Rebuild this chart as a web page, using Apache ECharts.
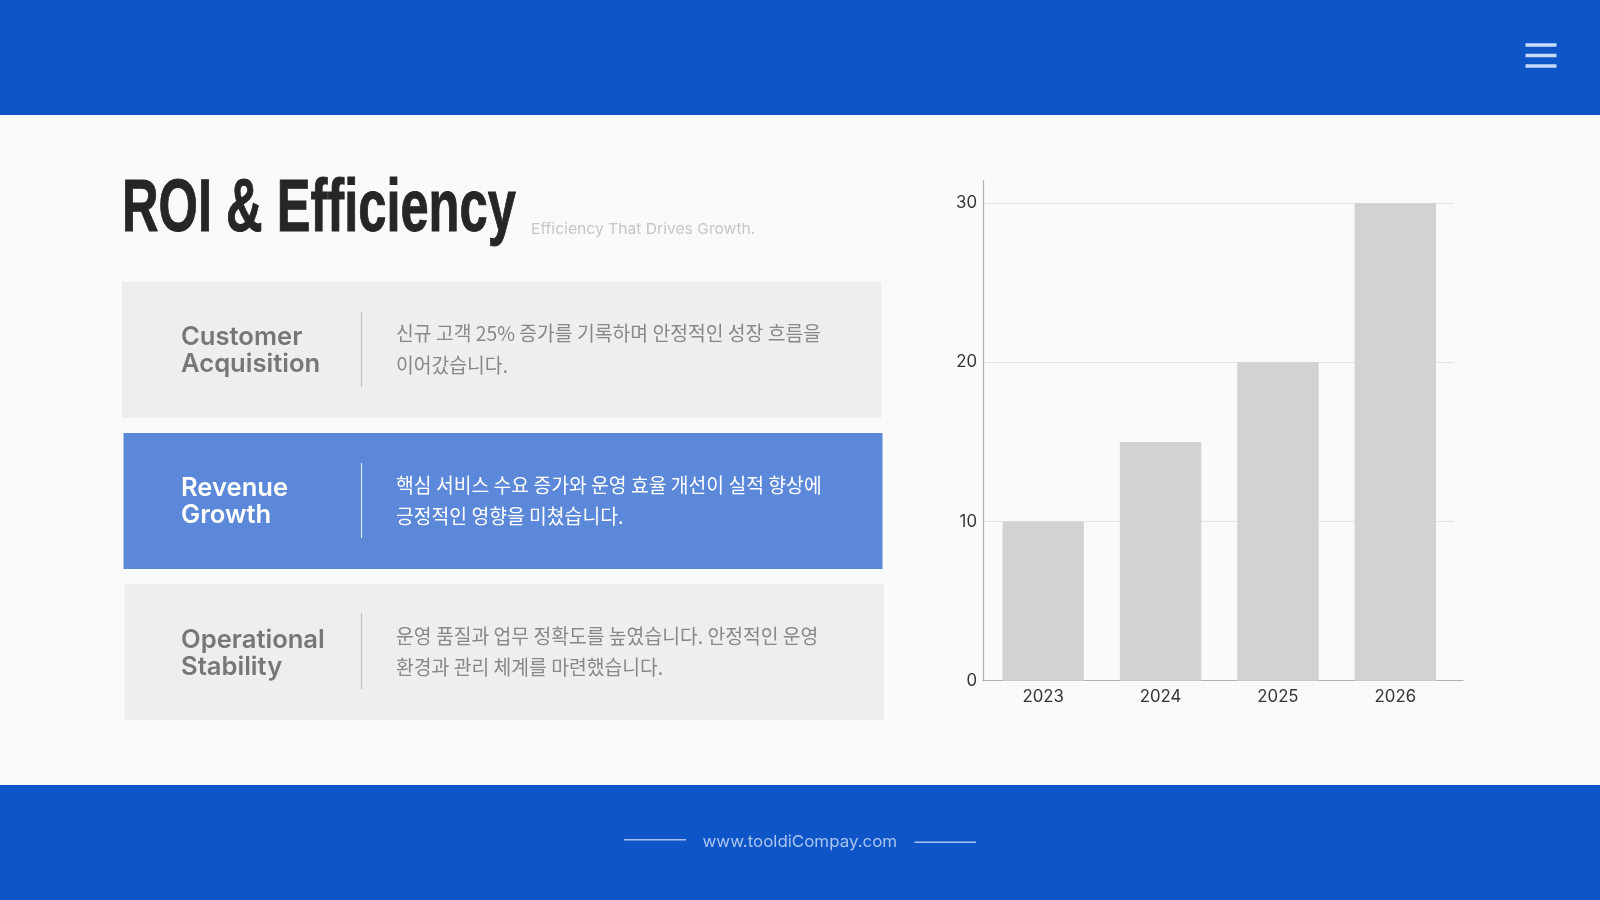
<!DOCTYPE html>
<html><head><meta charset="utf-8">
<style>html,body{margin:0;padding:0;background:#fafafa}#c{width:1600px;height:900px}</style>
<script src="https://cdn.jsdelivr.net/npm/echarts@6/dist/echarts.min.js"></script>
</head><body><div id="c"></div>
<script>
const years = ['2023','2024','2025','2026'];
const values = [10,15,20,30];
const yTicks = [0,10,20,30];
const titleText = 'ROI & Efficiency';
const subtitleText = 'Efficiency That Drives Growth.';
const footerText = 'www.tooldiCompay.com';
const cardTitles = [['Customer','Acquisition'],['Revenue','Growth'],['Operational','Stability']];
const cardBodies = [
 ['신규 고객 25% 증가를 기록하며 안정적인 성장 흐름을','이어갔습니다.'],
 ['핵심 서비스 수요 증가와 운영 효율 개선이 실적 향상에','긍정적인 영향을 미쳤습니다.'],
 ['운영 품질과 업무 정확도를 높였습니다. 안정적인 운영','환경과 관리 체계를 마련했습니다.']
];
const cardBoxes = [[122,282,759.5,136],[123.5,433,759,136],[124.8,584,759,136]];
const cardTitleY = [[337.5,364.5],[488.5,515],[640.5,667.5]];
const cardBodyY = [[333,365],[485,516],[636,667]];
const cardDividerY = [[312,387],[463,538],[613,689]];
const BLUE='#0E56C8', CARD='#EEEEEE', ACTIVE='#5B88D9';
const KR='"Noto Sans CJK KR", sans-serif';

const g=[];
const rect=(x,y,w,h,fill)=>g.push({type:'rect',shape:{x,y,width:w,height:h},style:{fill},silent:true});
const line=(x1,y1,x2,y2,stroke,lw)=>g.push({type:'line',shape:{x1,y1,x2,y2},style:{stroke,lineWidth:lw},silent:true});
const text=(t,x,y,font,fill,scaleX,extra)=>g.push({type:'text',x,y,scaleX:scaleX||1,style:Object.assign({text:t,font,fill,textAlign:'left',textVerticalAlign:'middle'},extra||{}),silent:true});

rect(0,0,1600,115,BLUE);
rect(0,785,1600,115,BLUE);
[45,55.5,66].forEach(y=>line(1525.5,y,1556.5,y,'#C6DCFA',3.5));
line(624,839.7,686,839.7,'#A9C4F0',1.4);
line(914.5,842.3,976,842.3,'#A9C4F0',1.4);
text(footerText,702.5,842,'400 16.5px Inter','#A9C4F0',1.025);
text(titleText,122,210,'700 75px "Liberation Sans"','#262626',0.675,{stroke:'#262626',lineWidth:1});
text(subtitleText,531,229,'400 15px Inter','#C6C6C6',1.043);
cardBoxes.forEach((b,i)=>{
  const on=i===1;
  rect(b[0],b[1],b[2],b[3],on?ACTIVE:CARD);
  line(361.5,cardDividerY[i][0],361.5,cardDividerY[i][1],on?'#DCE6F7':'#BDBDBD',1.2);
  cardTitles[i].forEach((t,j)=>text(t,181,cardTitleY[i][j],'600 25.6px Inter',on?'#FFFFFF':'#777777'));
  cardBodies[i].forEach((t,j)=>text(t,396,cardBodyY[i][j],'400 20px '+KR,on?'#FFFFFF':'#888888',0.966));
});

const chart=echarts.init(document.getElementById('c'),null,{renderer:'canvas',width:1600,height:900});
chart.setOption({
  backgroundColor:'#FAFAFA',animation:false,
  graphic:{elements:g},
  grid:[
    {left:984.5,width:469.5,top:203.2,height:477.5},
    {left:983,width:480,top:180.7,height:500}
  ],
  xAxis:[
    {gridIndex:0,type:'category',data:years,axisLine:{show:false},axisTick:{show:false},
     axisLabel:{color:'#333333',fontFamily:'Inter',fontSize:16.8,margin:7.5}},
    {gridIndex:1,type:'value',min:0,max:1,axisLine:{show:true,onZero:false,lineStyle:{color:'#B0B0B0',width:1.2}},axisTick:{show:false},axisLabel:{show:false},splitLine:{show:false}}
  ],
  yAxis:[
    {gridIndex:0,type:'value',min:yTicks[0],max:yTicks[3],interval:10,axisLine:{show:false},axisTick:{show:false},
     axisLabel:{color:'#333333',fontFamily:'Inter',fontSize:16.8,margin:7.5},splitLine:{show:true,lineStyle:{color:'#E4E4E4',width:1.2}}},
    {gridIndex:1,type:'value',min:0,max:1,axisLine:{show:true,onZero:false,lineStyle:{color:'#B0B0B0',width:1.2}},axisTick:{show:false},axisLabel:{show:false},splitLine:{show:false}}
  ],
  series:[{type:'bar',xAxisIndex:0,yAxisIndex:0,data:values,barWidth:81.4,itemStyle:{color:'#D2D2D2'},silent:true}]
});
</script></body></html>
